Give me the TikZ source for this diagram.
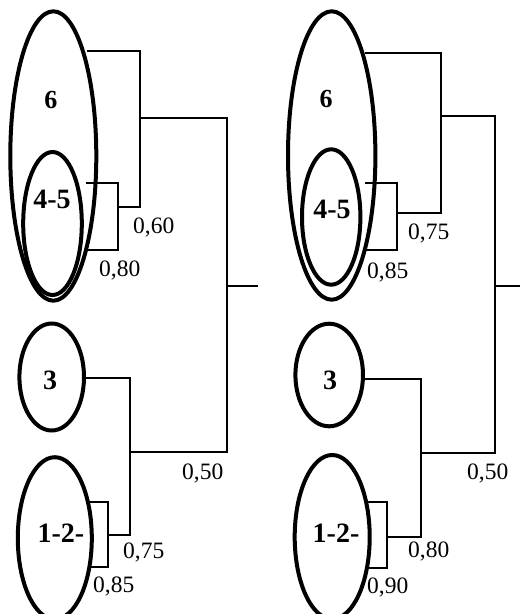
\documentclass[tikz,border=0pt]{standalone}
\usepackage{fontspec}
\setmainfont{Liberation Serif}
\begin{document}
\begin{tikzpicture}[x=1pt,y=-1pt,
  cluster/.style={line width=4pt},
  link/.style={line width=1.4pt},
  grp/.style={inner sep=0pt,anchor=base,font=\fontsize{28}{28}\selectfont\bfseries},
  grpsmall/.style={grp,font=\fontsize{26}{26}\selectfont\bfseries},
  lvl/.style={inner sep=0pt,anchor=base west,font=\fontsize{23.5}{24}\selectfont}]
\useasboundingbox (0,0) rectangle (520,614);
\begin{scope}
  \clip (0,0) rectangle (520,614);
  % ---- left tree: clusters ----
  \draw[cluster] (53.3,156) ellipse [x radius=43, y radius=144.7];
  \draw[cluster] (52.5,223.5) ellipse [x radius=29.3, y radius=71.5];
  \draw[cluster] (51.7,377) ellipse [x radius=32.3, y radius=53.5];
  \draw[cluster] (54.8,538.2) ellipse [x radius=37, y radius=81];
  % ---- right tree: clusters ----
  \draw[cluster] (331.7,155.5) ellipse [x radius=43.7, y radius=144.2];
  \draw[cluster] (331.2,217) ellipse [x radius=29.2, y radius=67.7];
  \draw[cluster] (329.2,375) ellipse [x radius=33.8, y radius=51.3];
  \draw[cluster] (332.2,537) ellipse [x radius=37.5, y radius=82];
\end{scope}

% group labels
\node[grpsmall] (l6)  at (51,108) {6};
\node[grp] (l45) at (52,208) {4-5};
\node[grp] (l3)  at (50,389) {3};
\node[grp] (l12) at (61,542) {1-2-};
\node[grpsmall] (r6)  at (326,107) {6};
\node[grp] (r45) at (332,218) {4-5};
\node[grp] (r3)  at (330,389) {3};
\node[grp] (r12) at (336,542) {1-2-};

% ---- left tree: junctions ----
\coordinate (La1) at (87,51);   \coordinate (La2) at (140,51);
\coordinate (La3) at (140,207); \coordinate (La4) at (118,207);
\coordinate (Lb1) at (86,183);  \coordinate (Lb2) at (118,183);
\coordinate (Lb3) at (118,250); \coordinate (Lb4) at (87,250);
\coordinate (Lc1) at (140,118); \coordinate (Lc2) at (227,118);
\coordinate (Lc3) at (227,452); \coordinate (Lc4) at (130,452);
\coordinate (Lr1) at (227,286); \coordinate (Lr2) at (258,286);
\coordinate (Ld1) at (85,378);  \coordinate (Ld2) at (130,378);
\coordinate (Ld3) at (130,535); \coordinate (Ld4) at (108,535);
\coordinate (Le1) at (90,502);  \coordinate (Le2) at (108,502);
\coordinate (Le3) at (108,567); \coordinate (Le4) at (90,567);
\draw[link] (La1) -- (La2) -- (La3) -- (La4);
\draw[link] (Lb1) -- (Lb2) -- (Lb3) -- (Lb4);
\draw[link] (Lc1) -- (Lc2) -- (Lc3) -- (Lc4);
\draw[link] (Lr1) -- (Lr2);
\draw[link] (Ld1) -- (Ld2) -- (Ld3) -- (Ld4);
\draw[link] (Le1) -- (Le2) -- (Le3) -- (Le4);

% ---- right tree: junctions ----
\coordinate (Ra1) at (365,53);  \coordinate (Ra2) at (441,53);
\coordinate (Ra3) at (441,213); \coordinate (Ra4) at (397,213);
\coordinate (Rb1) at (365,183); \coordinate (Rb2) at (397,183);
\coordinate (Rb3) at (397,250); \coordinate (Rb4) at (366,250);
\coordinate (Rc1) at (441,116); \coordinate (Rc2) at (495,116);
\coordinate (Rc3) at (495,453); \coordinate (Rc4) at (421,453);
\coordinate (Rr1) at (495,286); \coordinate (Rr2) at (520,286);
\coordinate (Rd1) at (364,379); \coordinate (Rd2) at (421,379);
\coordinate (Rd3) at (421,537); \coordinate (Rd4) at (387,537);
\coordinate (Re1) at (368,502); \coordinate (Re2) at (387,502);
\coordinate (Re3) at (387,568); \coordinate (Re4) at (368,568);
\draw[link] (Ra1) -- (Ra2) -- (Ra3) -- (Ra4);
\draw[link] (Rb1) -- (Rb2) -- (Rb3) -- (Rb4);
\draw[link] (Rc1) -- (Rc2) -- (Rc3) -- (Rc4);
\draw[link] (Rr1) -- (Rr2);
\draw[link] (Rd1) -- (Rd2) -- (Rd3) -- (Rd4);
\draw[link] (Re1) -- (Re2) -- (Re3) -- (Re4);

% similarity levels
\node[lvl] (lv60) at (133,233) {0,60};
\node[lvl] (lv80) at (99,276)  {0,80};
\node[lvl] (lv50) at (182,479) {0,50};
\node[lvl] (lv75) at (123,558) {0,75};
\node[lvl] (lv85) at (93,592)  {0,85};
\node[lvl] (rv75) at (408,239) {0,75};
\node[lvl] (rv85) at (367,278) {0,85};
\node[lvl] (rv50) at (467,479) {0,50};
\node[lvl] (rv80) at (408,557) {0,80};
\node[lvl] (rv90) at (367,593) {0,90};
\end{tikzpicture}
\end{document}
